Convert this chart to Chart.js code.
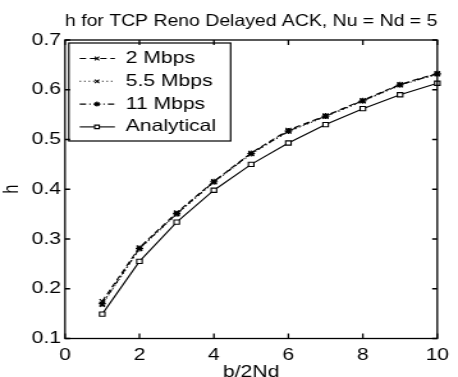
<!DOCTYPE html>
<html>
<head>
<meta charset="utf-8">
<script src="https://cdn.jsdelivr.net/npm/chart.js@4.4.1/dist/chart.umd.min.js"></script>
<style>
  html, body { margin: 0; padding: 0; background: #fff; overflow: hidden; }
  /* the figure is drawn narrow and widened to the page width */
  #wrap { width: 358px; height: 377px; transform: scaleX(1.2793); transform-origin: 0 0; }
</style>
</head>
<body>
<div id="wrap"><canvas id="chart" width="358" height="377"></canvas></div>
<script>
//#region data
const bValues = [1, 2, 3, 4, 5, 6, 7, 8, 9, 10];
const h2Mbps = [0.175, 0.283, 0.353, 0.416, 0.473, 0.519, 0.548, 0.579, 0.611, 0.633];
const h55Mbps = [0.168, 0.280, 0.350, 0.414, 0.471, 0.516, 0.546, 0.577, 0.609, 0.631];
const h11Mbps = [0.170, 0.281, 0.351, 0.415, 0.472, 0.517, 0.547, 0.578, 0.610, 0.632];
const hAnalytical = [0.149, 0.255, 0.334, 0.398, 0.450, 0.493, 0.530, 0.562, 0.590, 0.613];

const xTicks = [0, 2, 4, 6, 8, 10];
const yTicks = [0.1, 0.2, 0.3, 0.4, 0.5, 0.6, 0.7];
//#endregion

const FONT = "'Liberation Sans', Arial, Helvetica, sans-serif";
Chart.defaults.color = "#000";
Chart.defaults.font.family = FONT;
Chart.defaults.font.size = 16.5;

// pair the b/2Nd values with one series
function toPoints(values) {
  return bValues.map((b, i) => ({ x: b, y: values[i] }));
}

function series(label, values, dash, marker) {
  return {
    label: label,
    data: toPoints(values),
    borderColor: "#000",
    borderWidth: 1.1,
    borderDash: dash,
    pointStyle: marker,
    pointRadius: 3,
    pointBorderWidth: 1.1,
    pointBorderColor: "#000",
    pointBackgroundColor: "#fff",
    tension: 0,
    clip: false,
  };
}

//#region plugins
// box around the axes with inward tick marks on all four sides
const boxPlugin = {
  id: "box",
  afterDraw(chart) {
    const { ctx, chartArea: a, scales } = chart;
    ctx.save();
    ctx.strokeStyle = "#000";
    ctx.lineWidth = 1.3;
    ctx.setLineDash([]);
    ctx.strokeRect(a.left, a.top, a.right - a.left, a.bottom - a.top);
    ctx.beginPath();
    xTicks.forEach((v) => {
      const x = scales.x.getPixelForValue(v);
      ctx.moveTo(x, a.bottom);
      ctx.lineTo(x, a.bottom - 5);
      ctx.moveTo(x, a.top);
      ctx.lineTo(x, a.top + 5);
    });
    yTicks.forEach((v) => {
      const y = scales.y.getPixelForValue(v);
      ctx.moveTo(a.left, y);
      ctx.lineTo(a.left + 4, y);
      ctx.moveTo(a.right, y);
      ctx.lineTo(a.right - 4, y);
    });
    ctx.stroke();
    ctx.restore();
  },
};

// legend in the upper left corner, line sample with the marker in its middle
const legendPlugin = {
  id: "boxLegend",
  afterDatasetsDraw(chart) {
    const { ctx, chartArea: a } = chart;
    const left = a.left + 3;
    const top = a.top + 3;
    const width = 126.5;
    const height = 98;
    const rowGap = 22.8;

    ctx.save();
    ctx.fillStyle = "#fff";
    ctx.fillRect(left, top, width, height);
    ctx.strokeStyle = "#000";
    ctx.lineWidth = 1.2;
    ctx.strokeRect(left, top, width, height);

    chart.data.datasets.forEach((ds, i) => {
      const y = top + 15.5 + i * rowGap;
      ctx.strokeStyle = "#000";
      ctx.lineWidth = 1.1;
      ctx.setLineDash(ds.borderDash || []);
      ctx.beginPath();
      ctx.moveTo(left + 8.5, y);
      ctx.lineTo(left + 36, y);
      ctx.stroke();
      ctx.setLineDash([]);
      ctx.fillStyle = "#fff";
      Chart.helpers.drawPoint(ctx, {
        pointStyle: ds.pointStyle,
        radius: 2.5,
        rotation: 0,
        borderWidth: 1.1,
      }, left + 22, y);

      ctx.fillStyle = "#000";
      ctx.font = "16.5px " + FONT;
      ctx.textBaseline = "middle";
      ctx.textAlign = "left";
      ctx.fillText(ds.label, left + 44.5, y);
    });
    ctx.restore();
  },
};
//#endregion

new Chart(document.getElementById("chart"), {
  type: "line",
  data: {
    datasets: [
      series("2 Mbps", h2Mbps, [5, 3], "crossRot"),
      series("5.5 Mbps", h55Mbps, [1, 2.5], "crossRot"),
      series("11 Mbps", h11Mbps, [5, 2.5, 1, 2.5], "star"),
      series("Analytical", hAnalytical, [], "rect"),
    ],
  },
  options: {
    responsive: false,
    devicePixelRatio: 1,
    animation: false,
    layout: { padding: { top: 0, left: 0, right: 9.8, bottom: 0 } },
    plugins: {
      legend: { display: false },
      tooltip: { enabled: false },
      title: {
        display: true,
        fullSize: false,
        text: "h for TCP Reno Delayed ACK, Nu = Nd = 5",
        font: { size: 16.5, weight: "normal" },
        padding: { top: 11.2, bottom: 9 },
      },
    },
    scales: {
      x: {
        type: "linear",
        min: 0,
        max: 10,
        afterFit(scale) { scale.height = 38.5; },
        afterBuildTicks(scale) { scale.ticks = xTicks.map((v) => ({ value: v })); },
        grid: { display: false, drawTicks: false },
        border: { display: false },
        ticks: { padding: 7, maxRotation: 0 },
        title: { display: true, text: "b/2Nd", padding: { top: 0, bottom: -5 } },
      },
      y: {
        type: "linear",
        min: 0.1,
        max: 0.7,
        afterFit(scale) { scale.width = 50.8; },
        afterBuildTicks(scale) { scale.ticks = yTicks.map((v) => ({ value: v })); },
        grid: { display: false, drawTicks: false },
        border: { display: false },
        ticks: { padding: 3, callback: (v) => v.toFixed(1) },
        title: { display: true, text: "h", padding: 0 },
      },
    },
  },
  plugins: [boxPlugin, legendPlugin],
});
</script>
</body>
</html>
